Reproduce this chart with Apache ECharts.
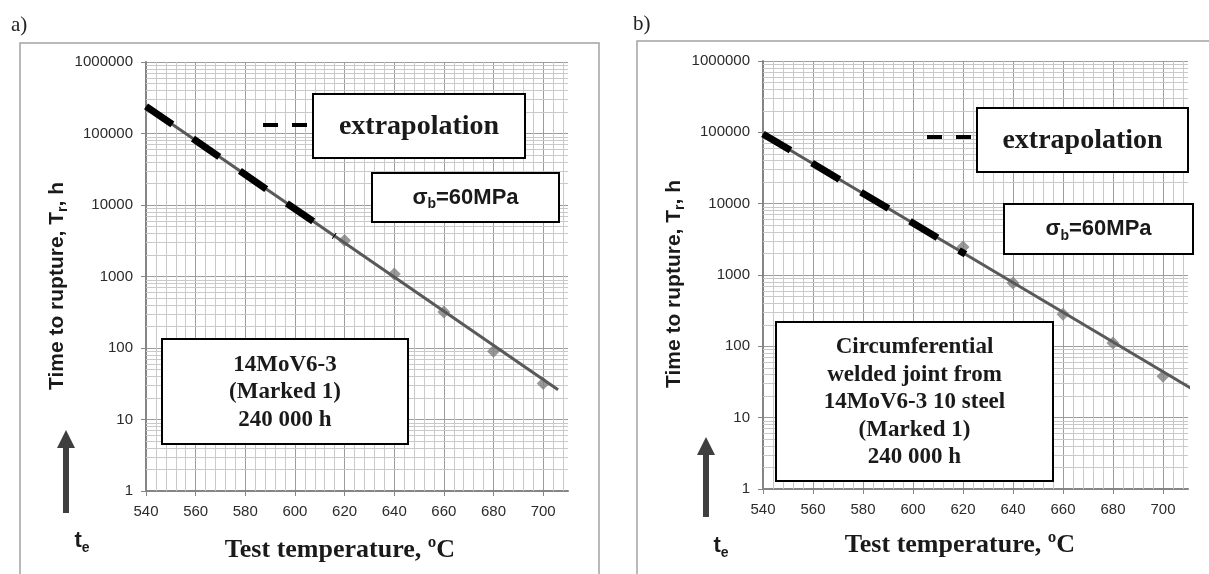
<!DOCTYPE html>
<html>
<head>
<meta charset="utf-8">
<script src="https://cdn.jsdelivr.net/npm/echarts@6/dist/echarts.min.js"></script>
<style>
  html, body { margin: 0; padding: 0; background: #fff; }
  #main { width: 1209px; height: 574px; }
</style>
</head>
<body>
<div id="main"></div>
<script>
// ---- data ----------------------------------------------------------------
// a) 14MoV6-3 (Marked 1)
const tempA = [620, 640, 660, 680, 700];
const ruptureA = [3200, 1080, 320, 90, 32];
const trendA = [[540, 240000], [706, 26]];
const extrapA = [[540, 240000], [616, 3660]];

// b) circumferential welded joint
const tempB = [620, 640, 660, 680, 700];
const ruptureB = [2460, 772, 282, 111, 38];
const trendB = [[540, 95000], [711, 26]];
const extrapB = [[540, 95000], [621, 1950]];

// axes
const xMin = 540, xMax = 710, xStep = 20, xMinorStep = 4;
const yMin = 1, yMax = 1000000;

// minor grid positions (2..9 per decade, every 4 degrees)
let minorY = [];
for (let d = 1; d < yMax; d *= 10) {
  for (let k = 2; k <= 9; k++) minorY.push(k * d);
}
let minorX = [];
for (let t = xMin + xMinorStep; t < xMax; t += xMinorStep) {
  if ((t - xMin) % xStep !== 0) minorX.push(t);
}

const serif = 'Liberation Serif';
const sans = 'Liberation Sans';
const axisColor = '#858585';

function xAxisFor(i) {
  return {
    gridIndex: i, type: 'value', min: xMin, max: xMax, interval: xStep,
    axisLine: { show: true, lineStyle: { color: axisColor, width: 2 } },
    axisTick: { show: true, length: 5, lineStyle: { color: axisColor } },
    axisLabel: { color: '#2b2b2b', fontSize: 15, fontFamily: sans, margin: 13, showMaxLabel: false },
    splitLine: { show: true, showMaxLine: false, lineStyle: { color: '#9c9c9c', width: 1 } }
  };
}
function yAxisFor(i) {
  return {
    gridIndex: i, type: 'log', logBase: 10, min: yMin, max: yMax, splitNumber: 6,
    axisLine: { show: true, lineStyle: { color: axisColor, width: 2 } },
    axisTick: { show: true, length: 5, lineStyle: { color: axisColor } },
    axisLabel: {
      color: '#2b2b2b', fontSize: 15, fontFamily: sans, margin: 13,
      formatter: function (v) { return String(Math.round(v)); }
    },
    splitLine: { show: true, lineStyle: { color: '#9c9c9c', width: 1 } }
  };
}

function seriesFor(i, temps, values, trend, extrap) {
  return [
    {
      // minor grid lines, kept under the data
      type: 'line', xAxisIndex: i, yAxisIndex: i, data: [], silent: true, z: 1,
      markLine: {
        z: 1, silent: true, symbol: ['none', 'none'], label: { show: false },
        lineStyle: { color: '#c9c9c9', width: 1, type: 'solid' },
        emphasis: { disabled: true },
        data: minorY.map(v => ({ yAxis: v })).concat(minorX.map(v => ({ xAxis: v })))
      }
    },
    {
      type: 'scatter', xAxisIndex: i, yAxisIndex: i, z: 2,
      symbol: 'diamond', symbolSize: 13,
      itemStyle: { color: '#808080' },
      data: temps.map((t, k) => [t, values[k]])
    },
    {
      type: 'line', xAxisIndex: i, yAxisIndex: i, z: 3, clip: false,
      symbol: 'none', data: trend,
      lineStyle: { color: '#595959', width: 3 }
    },
    {
      type: 'line', xAxisIndex: i, yAxisIndex: i, z: 4, clip: false,
      symbol: 'none', data: extrap,
      lineStyle: { color: '#000', width: 7, type: [32, 25], cap: 'butt' }
    }
  ];
}

// ---- annotations ---------------------------------------------------------
function box(x, y, w, h) {
  return { type: 'rect', z: 100, shape: { x: x, y: y, width: w, height: h },
    style: { fill: '#fff', stroke: '#000', lineWidth: 2 } };
}
function label(x, y, text, size, family, extra) {
  return { type: 'text', z: 101, x: x, y: y, rotation: (extra && extra.rotation) || 0,
    style: Object.assign({
      text: text, fontSize: size, fontFamily: family, fontWeight: 'bold', fill: '#1a1a1a',
      align: 'center', verticalAlign: 'middle'
    }, extra && extra.style) };
}
function dash(x1, x2, y) {
  return { type: 'line', z: 100, shape: { x1: x1, y1: y, x2: x2, y2: y },
    style: { stroke: '#000', lineWidth: 4 } };
}
function arrow(cx, tip, bottom) {
  return { type: 'polygon', z: 100,
    shape: { points: [[cx - 3, bottom], [cx - 3, tip + 18], [cx - 9, tip + 18], [cx, tip],
      [cx + 9, tip + 18], [cx + 3, tip + 18], [cx + 3, bottom]] },
    style: { fill: '#3f3f3f' } };
}
const subRich = { s: { fontSize: 14, fontWeight: 'bold', fontFamily: sans, verticalAlign: 'bottom', lineHeight: 14 } };

function panelGraphics(o) {
  return [
    { type: 'rect', z: 99, shape: { x: o.frame[0], y: o.frame[1], width: o.frame[2], height: 600 },
      style: { fill: 'none', stroke: '#a3a3a3', lineWidth: 1.5 } },
    { type: 'text', z: 101, x: o.tag[0], y: o.tag[1],
      style: { text: o.tagText, fontSize: 21, fontFamily: serif, fill: '#222', align: 'left', verticalAlign: 'middle' } },
    box(o.ext[0], o.ext[1], o.ext[2], o.ext[3]),
    label(o.ext[0] + o.ext[2] / 2, o.ext[1] + o.ext[3] / 2 + 1, 'extrapolation', 28, serif),
    dash(o.dashX[0], o.dashX[0] + 15, o.dashY),
    dash(o.dashX[1], o.dashX[1] + 15, o.dashY),
    box(o.sig[0], o.sig[1], o.sig[2], o.sig[3]),
    label(o.sig[0] + o.sig[2] / 2, o.sig[1] + o.sig[3] / 2, 'σ{s|b}=60MPa', 22, sans,
      { style: { lineHeight: 28, rich: subRich } }),
    box(o.info[0], o.info[1], o.info[2], o.info[3]),
    label(o.info[0] + o.info[2] / 2, o.info[1] + o.info[3] / 2 + 1, o.infoText, 23, serif,
      { style: { lineHeight: 27.5 } }),
    label(o.yTitle[0], o.yTitle[1], 'Time to rupture, T{s|r}, h', 21, sans,
      { rotation: Math.PI / 2, style: { lineHeight: 27, rich: subRich } }),
    label(o.xTitle[0], o.xTitle[1], 'Test temperature, ºC', 26, serif),
    arrow(o.arrow[0], o.arrow[1], o.arrow[2]),
    label(o.te[0], o.te[1], 't{s|e}', 22, sans, { style: { lineHeight: 28, rich: subRich } })
  ];
}

const chart = echarts.init(document.getElementById('main'));
const option = {
  animation: false,
  grid: [
    { left: 146, top: 62, width: 422, height: 429, containLabel: false, outerBoundsMode: 'none' },
    { left: 763, top: 61, width: 425, height: 428, containLabel: false, outerBoundsMode: 'none' }
  ],
  xAxis: [xAxisFor(0), xAxisFor(1)],
  yAxis: [yAxisFor(0), yAxisFor(1)],
  series: seriesFor(0, tempA, ruptureA, trendA, extrapA)
    .concat(seriesFor(1, tempB, ruptureB, trendB, extrapB)),
  graphic: panelGraphics({
    frame: [20, 43, 579], tag: [11, 25], tagText: 'a)',
    ext: [313, 94, 212, 64], dashX: [263, 292], dashY: 125,
    sig: [372, 173, 187, 49],
    info: [162, 339, 246, 105], infoText: '14MoV6-3\n(Marked 1)\n240 000 h',
    yTitle: [57, 286], xTitle: [340, 550],
    arrow: [66, 430, 513], te: [82, 541]
  }).concat(panelGraphics({
    frame: [637, 41, 620], tag: [633, 24], tagText: 'b)',
    ext: [977, 108, 211, 64], dashX: [927, 956], dashY: 137,
    sig: [1004, 204, 189, 50],
    info: [776, 322, 277, 159],
    infoText: 'Circumferential\nwelded joint from\n14MoV6-3 10 steel\n(Marked 1)\n240 000 h',
    yTitle: [674, 284], xTitle: [960, 545],
    arrow: [706, 437, 517], te: [721, 546]
  }))
};
chart.setOption(option);
</script>
</body>
</html>
